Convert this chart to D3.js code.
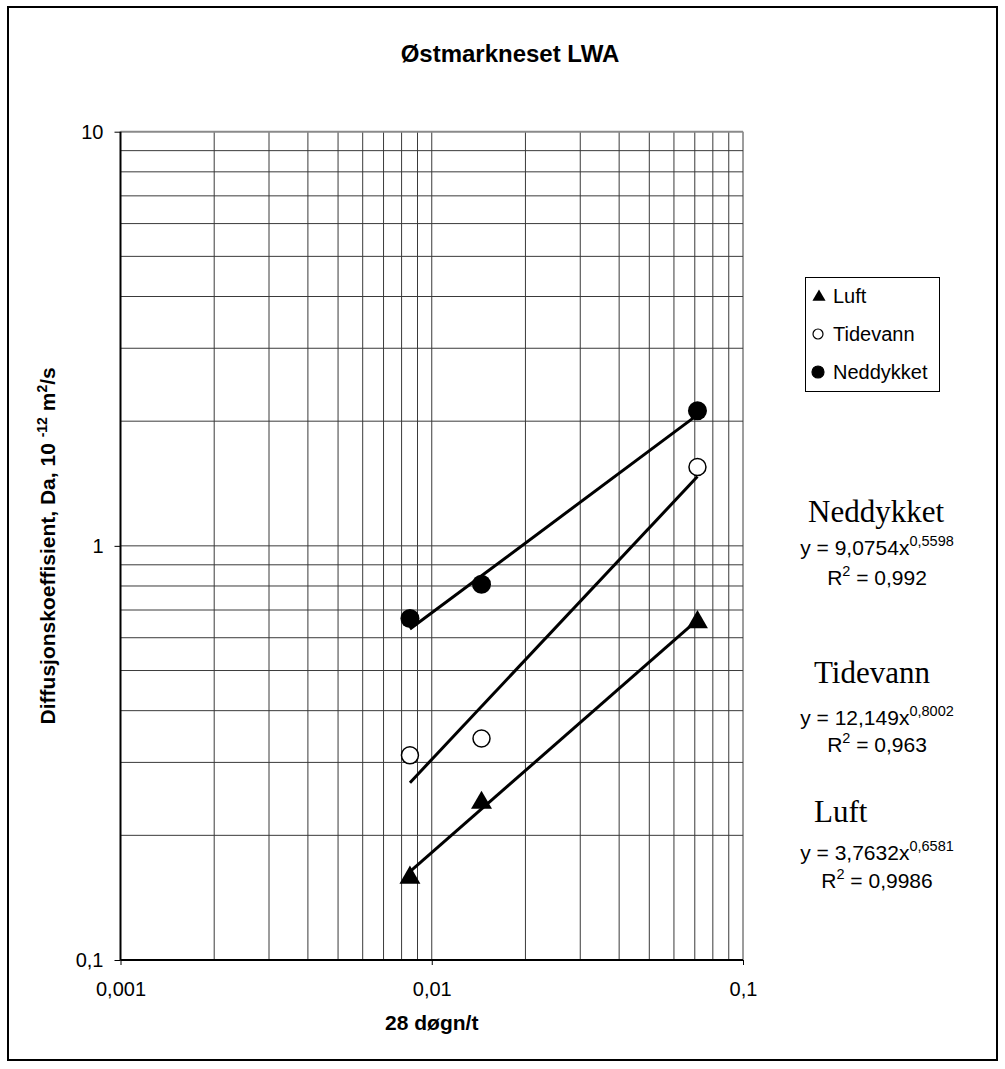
<!DOCTYPE html>
<html>
<head>
<meta charset="utf-8">
<script src="https://cdn.jsdelivr.net/npm/d3@7"></script>
<style>
  body { margin: 0; background: #fff; }
  text { font-family: "Liberation Sans", Arial, sans-serif; fill: #000; }
  .serif { font-family: "Liberation Serif", "Times New Roman", serif; }
</style>
</head>
<body>
<div class="canvas"></div>
<script>
// data
const xValues = [0.00851, 0.01445, 0.0714];
const luft = [0.159, 0.241, 0.658];
const tidevann = [0.312, 0.3425, 1.55];
const neddykket = [0.668, 0.808, 2.12];

const seriesNames = ['Luft', 'Tidevann', 'Neddykket'];
const fitA = [3.7632, 12.149, 9.0754];
const fitB = [0.6581, 0.8002, 0.5598];
const fitA_txt = ['3,7632', '12,149', '9,0754'];
const fitB_txt = ['0,6581', '0,8002', '0,5598'];
const r2_txt = ['0,9986', '0,963', '0,992'];

const xTickLabels = ['0,001', '0,01', '0,1'];
const yTickLabels = ['0,1', '1', '10'];

const dims = { width: 1005, height: 1069 };
const plot = { left: 120.5, right: 743, top: 131.7, bottom: 960 };

const svg = d3.select('.canvas')
  .append('svg')
  .attr('width', dims.width)
  .attr('height', dims.height);

// outer chart border
svg.append('rect')
  .attr('x', 8).attr('y', 7)
  .attr('width', 989).attr('height', 1053)
  .attr('fill', '#fff')
  .attr('stroke', '#000')
  .attr('stroke-width', 2);

const x = d3.scaleLog().domain([0.001, 0.1]).range([plot.left, plot.right]);
const y = d3.scaleLog().domain([0.1, 10]).range([plot.bottom, plot.top]);

// grid lines at 1..9 of each decade
const xGrid = [];
[0.001, 0.01].forEach(d => d3.range(1, 10).forEach(k => xGrid.push(k * d)));
xGrid.push(0.1);
const yGrid = [];
[0.1, 1].forEach(d => d3.range(1, 10).forEach(k => yGrid.push(k * d)));
yGrid.push(10);

const grid = svg.append('g');
grid.selectAll('.vg')
  .data(xGrid)
  .enter().append('line')
    .attr('x1', d => x(d)).attr('x2', d => x(d))
    .attr('y1', plot.top).attr('y2', plot.bottom)
    .attr('stroke', '#3a3a3a')
    .attr('stroke-width', 1);

grid.selectAll('.hg')
  .data(yGrid)
  .enter().append('line')
    .attr('x1', plot.left).attr('x2', plot.right)
    .attr('y1', d => y(d)).attr('y2', d => y(d))
    .attr('stroke', d => d === 10 ? '#8a8a8a' : '#3a3a3a')
    .attr('stroke-width', d => d === 10 ? 2 : 1);

// axes
const xAxis = d3.axisBottom(x)
  .tickValues([0.001, 0.01, 0.1])
  .tickFormat((d, i) => xTickLabels[i])
  .tickSize(5)
  .tickPadding(17);

const yAxis = d3.axisLeft(y)
  .tickValues([0.1, 1, 10])
  .tickFormat((d, i) => yTickLabels[i])
  .tickSize(6)
  .tickPadding(11);

const gx = svg.append('g')
  .attr('transform', `translate(0, ${plot.bottom})`)
  .call(xAxis);
const gy = svg.append('g')
  .attr('transform', `translate(${plot.left}, 0)`)
  .call(yAxis);

[gx, gy].forEach(g => {
  g.select('.domain').attr('stroke', '#000').attr('stroke-width', 2);
  g.selectAll('.tick line').attr('stroke', '#000').attr('stroke-width', 1);
  g.selectAll('.tick text')
    .attr('font-family', '"Liberation Sans", Arial, sans-serif')
    .attr('font-size', 20)
    .attr('fill', '#000');
});
gx.select('.domain').attr('d', `M${plot.left},0H${plot.right}`);
gy.select('.domain').attr('d', `M0,${plot.bottom}V${plot.top}`);

// titles
svg.append('text')
  .attr('x', 510).attr('y', 62)
  .attr('text-anchor', 'middle')
  .attr('font-size', 24)
  .attr('font-weight', 'bold')
  .text('Østmarkneset LWA');

svg.append('text')
  .attr('x', (plot.left + plot.right) / 2).attr('y', 1030)
  .attr('text-anchor', 'middle')
  .attr('font-size', 21)
  .attr('font-weight', 'bold')
  .text('28 døgn/t');

const yTitle = svg.append('text')
  .attr('transform', `translate(55, ${(plot.top + plot.bottom) / 2}) rotate(-90)`)
  .attr('text-anchor', 'middle')
  .attr('font-size', 21)
  .attr('font-weight', 'bold');
yTitle.append('tspan').text('Diffusjonskoeffisient, Da, 10 ');
yTitle.append('tspan').attr('font-size', 14).attr('dy', -8).text('-12');
yTitle.append('tspan').attr('dy', 8).text(' m');
yTitle.append('tspan').attr('font-size', 14).attr('dy', -8).text('2');
yTitle.append('tspan').attr('dy', 8).text('/s');

// trendlines (power fits from the displayed equations)
const allY = [luft, tidevann, neddykket];
const xEnds = [xValues[0], xValues[xValues.length - 1]];
const line = d3.line().x(d => x(d[0])).y(d => y(d[1]));

svg.append('g').selectAll('path')
  .data(seriesNames.map((n, i) => xEnds.map(xv => [xv, fitA[i] * Math.pow(xv, fitB[i])])))
  .enter().append('path')
    .attr('d', line)
    .attr('fill', 'none')
    .attr('stroke', '#000')
    .attr('stroke-width', 3);

// markers
const tri = d3.symbol().type(d3.symbolTriangle);
const markers = svg.append('g');

markers.selectAll('.luft')
  .data(xValues.map((xv, i) => [xv, luft[i]]))
  .enter().append('path')
    .attr('d', tri.size(190)())
    .attr('transform', d => `translate(${x(d[0])}, ${y(d[1]) + 1})`)
    .attr('fill', '#000');

markers.selectAll('.tide')
  .data(xValues.map((xv, i) => [xv, tidevann[i]]))
  .enter().append('circle')
    .attr('cx', d => x(d[0])).attr('cy', d => y(d[1]))
    .attr('r', 8.5)
    .attr('fill', '#fff')
    .attr('stroke', '#000')
    .attr('stroke-width', 1.5);

markers.selectAll('.ned')
  .data(xValues.map((xv, i) => [xv, neddykket[i]]))
  .enter().append('circle')
    .attr('cx', d => x(d[0])).attr('cy', d => y(d[1]))
    .attr('r', 9.5)
    .attr('fill', '#000');

// legend
const legend = svg.append('g');
legend.append('rect')
  .attr('x', 805.5).attr('y', 277.5)
  .attr('width', 134).attr('height', 114)
  .attr('fill', '#fff')
  .attr('stroke', '#000')
  .attr('stroke-width', 1);

const legendRows = [303, 341, 379];
seriesNames.forEach((name, i) => {
  const cy = legendRows[i] - 7;
  if (i === 0) {
    legend.append('path')
      .attr('d', tri.size(75)())
      .attr('transform', `translate(819, ${cy + 1})`)
      .attr('fill', '#000');
  } else {
    legend.append('circle')
      .attr('cx', 818).attr('cy', cy)
      .attr('r', i === 1 ? 5 : 6)
      .attr('fill', i === 1 ? '#fff' : '#000')
      .attr('stroke', '#000')
      .attr('stroke-width', 1.2);
  }
  legend.append('text')
    .attr('x', 833).attr('y', legendRows[i])
    .attr('font-size', 20)
    .text(name);
});

// trendline annotations
const ann = [
  { name: 2, tx: 808, ty: 522, ey: 555, ry: 585 },
  { name: 1, tx: 814, ty: 683, ey: 725, ry: 752 },
  { name: 0, tx: 814, ty: 822, ey: 860, ry: 888 }
];
const cx = 877;
ann.forEach(a => {
  const i = a.name;
  svg.append('text')
    .attr('class', 'serif')
    .attr('x', a.tx).attr('y', a.ty)
    .attr('font-size', 31)
    .text(seriesNames[i]);

  const eq = svg.append('text')
    .attr('x', cx).attr('y', a.ey)
    .attr('text-anchor', 'middle')
    .attr('font-size', 21);
  eq.append('tspan').text(`y = ${fitA_txt[i]}x`);
  eq.append('tspan').attr('font-size', 14.5).attr('dy', -9).text(fitB_txt[i]);

  const r = svg.append('text')
    .attr('x', cx).attr('y', a.ry)
    .attr('text-anchor', 'middle')
    .attr('font-size', 21);
  r.append('tspan').text('R');
  r.append('tspan').attr('font-size', 14.5).attr('dy', -9).text('2');
  r.append('tspan').attr('dy', 9).text(` = ${r2_txt[i]}`);
});
</script>
</body>
</html>
